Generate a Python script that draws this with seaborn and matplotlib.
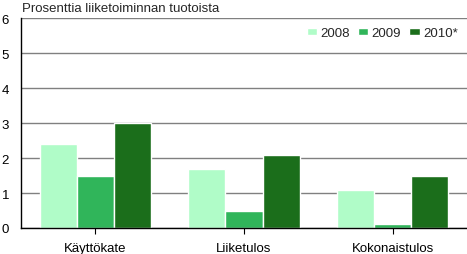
import matplotlib
matplotlib.use("Agg")
import matplotlib.pyplot as plt
import seaborn as sns
import pandas as pd

categories = ["Käyttökate", "Liiketulos", "Kokonaistulos"]
years = ["2008", "2009", "2010*"]
v2008 = [2.4, 1.7, 1.1]
v2009 = [1.5, 0.5, 0.1]
v2010 = [3.0, 2.1, 1.5]
colors = ["#B0FCC8", "#30B55A", "#1B6E1B"]

rows = []
for y, vals in zip(years, [v2008, v2009, v2010]):
    for c, v in zip(categories, vals):
        rows.append({"cat": c, "year": y, "val": v})
df = pd.DataFrame(rows)

sns.set_style("white")
plt.rcParams["font.family"] = ["Liberation Sans", "DejaVu Sans"]

fig = plt.figure(figsize=(4.67, 2.55), dpi=100)
ax = fig.add_axes([0.045, 0.102, 0.955, 0.823])
sns.barplot(data=df, x="cat", y="val", hue="year", palette=colors,
            width=0.75, edgecolor="white", linewidth=1, ax=ax, saturation=1)

ax.set_ylim(0, 6)
ax.set_xlim(-0.5, 2.5)
ax.set_yticks(range(7))
ax.yaxis.grid(True, color="#808080", linewidth=1)
ax.set_axisbelow(True)
ax.set_xlabel("")
ax.set_ylabel("")
for s in ["top", "right"]:
    ax.spines[s].set_visible(False)
for s in ["left", "bottom"]:
    ax.spines[s].set_color("black")
    ax.spines[s].set_linewidth(1)
ax.tick_params(axis="y", length=0, pad=14, labelsize=9.5, colors="black")
ax.tick_params(axis="x", length=4, direction="out", bottom=True, pad=6, labelsize=9.5, colors="black")
for lab in ax.get_yticklabels():
    lab.set_horizontalalignment("left")

fig.text(0.047, 0.965, "Prosenttia liiketoiminnan tuotoista", fontsize=9.5, va="center", ha="left")

leg = ax.legend(loc="upper right", bbox_to_anchor=(1.0, 1.0), ncol=3, frameon=False,
                fontsize=9.5, handlelength=0.8, handleheight=0.5, handletextpad=0.25,
                columnspacing=0.6, borderaxespad=0.3)
fig.savefig("out.png", dpi=100)
